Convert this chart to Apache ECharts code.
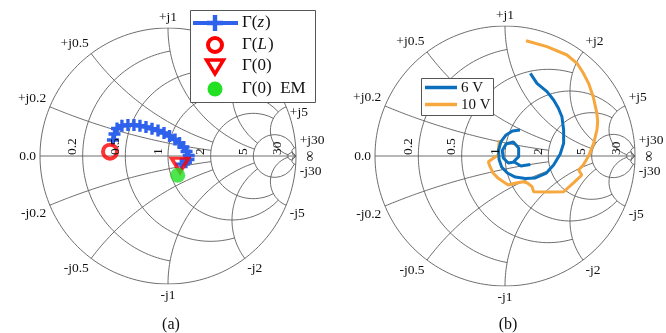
<!DOCTYPE html>
<html>
<head>
<meta charset="utf-8">
<script src="https://cdn.jsdelivr.net/npm/echarts@6/dist/echarts.min.js"></script>
<style>
html, body { margin: 0; padding: 0; background: #fff; }
#main { width: 666px; height: 333px; }
</style>
</head>
<body>
<div id="main"></div>
<script>
// smith chart grid: resistance circles / reactance arcs and where each one is cut
const resTicks = [0.2, 0.5, 1, 2, 5, 30];
const resReach = [1, 2, 5, 5, 30, Infinity];
const reactTicks = [0.2, 0.5, 1, 2, 5, 30];
const reactReach = [2, 2, 5, 5, 30, Infinity];
const resLabels = ['0.2', '0.5', '1', '2', '5', '30'];
const reactLabels = ['j0.2', 'j0.5', 'j1', 'j2', 'j5', 'j30'];

// (a) reflection coefficient along the line (real / imag)
const gzRe = [-0.430, -0.418, -0.398, -0.360, -0.313, -0.266, -0.219, -0.172, -0.125, -0.078, -0.031, 0.012, 0.055, 0.090, 0.120, 0.145, 0.162, 0.160, 0.140, 0.104];
const gzIm = [0.125, 0.172, 0.215, 0.236, 0.242, 0.242, 0.236, 0.227, 0.213, 0.199, 0.180, 0.156, 0.129, 0.102, 0.070, 0.035, 0.004, -0.027, -0.049, -0.063];
const gL = [-0.453, 0.034];
const g0 = [0.094, -0.072];
const g0EM = [0.076, -0.150];

// (b) measured traces
const v6aRe = [0.115, 0.058, 0.008, -0.031, -0.049, -0.046, -0.026, 0.018, 0.079, 0.156, 0.233, 0.318, 0.374, 0.425, 0.451, 0.451, 0.438, 0.410, 0.374, 0.323, 0.246, 0.195];
const v6aIm = [0.200, 0.192, 0.162, 0.110, 0.046, -0.025, -0.085, -0.131, -0.162, -0.173, -0.169, -0.131, -0.069, 0.015, 0.098, 0.200, 0.302, 0.369, 0.431, 0.495, 0.559, 0.636];
const v6bRe = [0.195, 0.122, 0.072, 0.025, -0.013, -0.021, 0.008, 0.064, 0.105, 0.105, 0.064];
const v6bIm = [-0.065, -0.077, -0.046, -0.054, -0.015, 0.042, 0.092, 0.108, 0.062, -0.005, -0.046];
const v10Re = [0.162, 0.323, 0.477, 0.554, 0.602, 0.643, 0.679, 0.707, 0.713, 0.707, 0.682, 0.643, 0.602, 0.566, 0.591, 0.525, 0.451, 0.333, 0.220, 0.208, 0.172, 0.143, 0.077, 0.025, -0.013, -0.052, -0.090, -0.115, -0.128, -0.090, -0.052, -0.049, -0.044];
const v10Im = [0.887, 0.841, 0.777, 0.713, 0.638, 0.559, 0.454, 0.328, 0.262, 0.200, 0.097, 0.0, -0.069, -0.108, -0.146, -0.208, -0.275, -0.277, -0.275, -0.236, -0.208, -0.198, -0.210, -0.223, -0.198, -0.172, -0.133, -0.082, -0.044, -0.018, 0.008, 0.062, 0.123];

const panels = [
  {left: 40, top: 28, size: 256, caption: '(a)'},
  {left: 375, top: 26, size: 260, caption: '(b)'}
];

const SERIF = "'Liberation Serif', 'DejaVu Serif', serif";
const GRID_COLOR = '#5e5e5e';
const BLUE_A = '#2e62ec';

function gamma(r, x) {
  if (!isFinite(x) || !isFinite(r)) return [1, 0];
  const d = (r + 1) * (r + 1) + x * x;
  return [(r * r - 1 + x * x) / d, 2 * x / d];
}

function zip(a, b) {
  return a.map((v, i) => [v, b[i]]);
}

function gridSeries(p) {
  const N = 100;
  const out = [];
  const base = {
    type: 'line', xAxisIndex: p, yAxisIndex: p, symbol: 'none', silent: true,
    lineStyle: {color: GRID_COLOR, width: 0.9}, z: 1, animation: false
  };
  const outer = [];
  for (let i = 0; i <= 2 * N; i++) {
    const a = Math.PI * i / N;
    outer.push([Math.cos(a), Math.sin(a)]);
  }
  out.push(Object.assign({}, base, {data: outer}));
  out.push(Object.assign({}, base, {data: [[-1, 0], [1, 0]]}));
  resTicks.forEach((r, k) => {
    const t = Math.atan(resReach[k]);
    const pts = [];
    for (let i = 0; i <= N; i++) {
      pts.push(gamma(r, Math.tan(-t + 2 * t * i / N)));
    }
    out.push(Object.assign({}, base, {data: pts}));
  });
  reactTicks.forEach((x, k) => {
    const t = Math.atan(reactReach[k]);
    [1, -1].forEach(s => {
      const pts = [];
      for (let i = 0; i <= N; i++) {
        pts.push(gamma(Math.tan(t * i / N), s * x));
      }
      out.push(Object.assign({}, base, {data: pts}));
    });
  });
  return out;
}

const plusPath = 'path://M3.6,0H6.4V3.6H10V6.4H6.4V10H3.6V6.4H0V3.6H3.6Z';
const triPath = 'path://M0,0L10,0L5,8.66Z';

const chart = echarts.init(document.getElementById('main'), null, {renderer: 'canvas'});

const option = {
  animation: false,
  backgroundColor: '#fff',
  grid: panels.map(g => ({left: g.left, top: g.top, width: g.size, height: g.size})),
  xAxis: panels.map((g, i) => ({type: 'value', gridIndex: i, min: -1, max: 1, show: false})),
  yAxis: panels.map((g, i) => ({type: 'value', gridIndex: i, min: -1, max: 1, show: false})),
  series: [].concat(
    gridSeries(0),
    gridSeries(1),
    [
      {
        name: 'Γ(z)', type: 'line', xAxisIndex: 0, yAxisIndex: 0, data: zip(gzRe, gzIm),
        lineStyle: {color: BLUE_A, width: 4}, itemStyle: {color: BLUE_A},
        symbol: plusPath, symbolSize: 12, showSymbol: true, showAllSymbol: true, z: 5
      },
      {
        name: 'Γ(L)', type: 'scatter', xAxisIndex: 0, yAxisIndex: 0, data: [gL],
        symbol: 'circle', symbolSize: 14,
        itemStyle: {color: 'rgba(0,0,0,0)', borderColor: '#f00', borderWidth: 4}, z: 6
      },
      {
        name: 'Γ(0)', type: 'scatter', xAxisIndex: 0, yAxisIndex: 0, data: [g0],
        symbol: triPath, symbolSize: [17, 14],
        itemStyle: {color: 'rgba(0,0,0,0)', borderColor: '#f00', borderWidth: 3.5}, z: 6
      },
      {
        name: 'Γ(0) EM', type: 'scatter', xAxisIndex: 0, yAxisIndex: 0, data: [g0EM],
        symbol: 'circle', symbolSize: 15, itemStyle: {color: '#22e022'}, z: 7
      },
      {
        name: '6 V', type: 'line', xAxisIndex: 1, yAxisIndex: 1, data: zip(v6aRe, v6aIm),
        symbol: 'none', lineStyle: {color: '#0a6fbd', width: 3}, z: 5
      },
      {
        name: '6 V', type: 'line', xAxisIndex: 1, yAxisIndex: 1, data: zip(v6bRe, v6bIm),
        symbol: 'none', lineStyle: {color: '#0a6fbd', width: 3}, z: 5
      },
      {
        name: '10 V', type: 'line', xAxisIndex: 1, yAxisIndex: 1, data: zip(v10Re, v10Im),
        symbol: 'none', lineStyle: {color: '#f6a73e', width: 3}, z: 4
      }
    ]
  )
};

chart.setOption(option);

// tick labels sit under the legend boxes (z 30 < 40)
function txt(x, y, text, size, align, valign, extra, z) {
  return Object.assign({
    type: 'text', x: x, y: y, z: z || 30,
    style: {
      text: text, fill: '#111', fontSize: size, fontFamily: SERIF,
      align: align, textAlign: align, verticalAlign: valign, textVerticalAlign: valign
    }
  }, extra || {});
}

// a run of upright / italic pieces laid out left to right
const measureCtx = document.createElement('canvas').getContext('2d');
function mathText(x, y, pieces, size) {
  const els = [];
  let cx = x;
  pieces.forEach(([s, italic]) => {
    measureCtx.font = (italic ? 'italic ' : '') + size + 'px ' + SERIF;
    const w = measureCtx.measureText(s).width;
    els.push({
      type: 'text', x: cx, y: y, z: 50,
      style: {
        text: s, fill: '#111', fontSize: size, fontFamily: SERIF, fontStyle: italic ? 'italic' : 'normal',
        align: 'left', textAlign: 'left', verticalAlign: 'middle', textVerticalAlign: 'middle'
      }
    });
    cx += w + (italic ? 1 : 0);
  });
  return els;
}

const graphics = [];

panels.forEach((g, p) => {
  const toPx = v => chart.convertToPixel({xAxisIndex: p, yAxisIndex: p}, v);
  const c = toPx([0, 0]);
  const rim = [{x: 0, label: '0.0'}];
  reactTicks.forEach((x, k) => {
    rim.push({x: x, label: '+' + reactLabels[k]});
    rim.push({x: -x, label: '-' + reactLabels[k]});
  });
  rim.forEach(item => {
    const pt = toPx(gamma(0, item.x));
    const dx = pt[0] - c[0], dy = pt[1] - c[1];
    const len = Math.hypot(dx, dy);
    const ux = dx / len, uy = dy / len;
    const align = ux > 0.15 ? 'left' : (ux < -0.15 ? 'right' : 'center');
    let valign = uy < -0.05 ? 'bottom' : (uy > 0.05 ? 'top' : 'middle');
    // in (a) the +j5 label sits under the legend box
    if (p === 0 && item.label === '+j5') valign = 'top';
    graphics.push(txt(pt[0] + 4 * ux, pt[1] + 4 * uy, item.label, 13.5, align, valign));
  });
  resTicks.forEach((r, k) => {
    const pt = toPx(gamma(r, 0));
    graphics.push(txt(pt[0] - 3, pt[1] - 1, resLabels[k], 13.5, 'left', 'bottom', {rotation: Math.PI / 2}));
  });
  const inf = toPx([1, 0]);
  graphics.push(txt(inf[0] + 14, inf[1], '∞', 15, 'center', 'middle', {rotation: Math.PI / 2}));
  graphics.push(txt(c[0] + 3, 325, g.caption, 16, 'center', 'middle'));
});

// legend (a)
const legA = {x: 190, y: 10, w: 125, h: 92};
graphics.push({type: 'rect', z: 40, shape: {x: legA.x + 0.5, y: legA.y + 0.5, width: legA.w, height: legA.h},
  style: {fill: '#fff', stroke: '#555', lineWidth: 1}});
const rowsA = [23, 45, 66, 89];
const mx = 215;
graphics.push({type: 'line', z: 45, shape: {x1: 193, y1: rowsA[0], x2: 238, y2: rowsA[0]},
  style: {stroke: BLUE_A, lineWidth: 4}});
graphics.push({type: 'polygon', z: 46, shape: {points: [
  [mx - 2.2, rowsA[0] - 8], [mx + 2.2, rowsA[0] - 8], [mx + 2.2, rowsA[0] - 2.2], [mx + 8, rowsA[0] - 2.2],
  [mx + 8, rowsA[0] + 2.2], [mx + 2.2, rowsA[0] + 2.2], [mx + 2.2, rowsA[0] + 8], [mx - 2.2, rowsA[0] + 8],
  [mx - 2.2, rowsA[0] + 2.2], [mx - 8, rowsA[0] + 2.2], [mx - 8, rowsA[0] - 2.2], [mx - 2.2, rowsA[0] - 2.2]]},
  style: {fill: BLUE_A}});
graphics.push({type: 'circle', z: 46, shape: {cx: mx, cy: rowsA[1], r: 7},
  style: {fill: 'none', stroke: '#f00', lineWidth: 4}});
graphics.push({type: 'polygon', z: 46, shape: {points: [[mx - 8.5, rowsA[2] - 6], [mx + 8.5, rowsA[2] - 6], [mx, rowsA[2] + 8]]},
  style: {fill: 'none', stroke: '#f00', lineWidth: 3.5}});
graphics.push({type: 'circle', z: 46, shape: {cx: mx, cy: rowsA[3], r: 7.5}, style: {fill: '#22e022'}});
const labA = [
  [['Γ(', false], ['z', true], [')', false]],
  [['Γ(', false], ['L', true], [')', false]],
  [['Γ(0)', false]],
  [['Γ(0)  EM', false]]
];
labA.forEach((pieces, k) => {
  mathText(242, rowsA[k], pieces, 17).forEach(e => graphics.push(e));
});

// legend (b)
const legB = {x: 421, y: 78, w: 72, h: 37};
graphics.push({type: 'rect', z: 40, shape: {x: legB.x + 0.5, y: legB.y + 0.5, width: legB.w, height: legB.h},
  style: {fill: '#fff', stroke: '#555', lineWidth: 1}});
graphics.push({type: 'line', z: 45, shape: {x1: 425, y1: 87.5, x2: 457, y2: 87.5}, style: {stroke: '#0a6fbd', lineWidth: 3.5}});
graphics.push({type: 'line', z: 45, shape: {x1: 425, y1: 104.5, x2: 457, y2: 104.5}, style: {stroke: '#f6a73e', lineWidth: 3.5}});
graphics.push(txt(461, 88, '6 V', 15, 'left', 'middle', null, 50));
graphics.push(txt(461, 105, '10 V', 15, 'left', 'middle', null, 50));

chart.setOption({graphic: {elements: graphics}});
</script>
</body>
</html>
